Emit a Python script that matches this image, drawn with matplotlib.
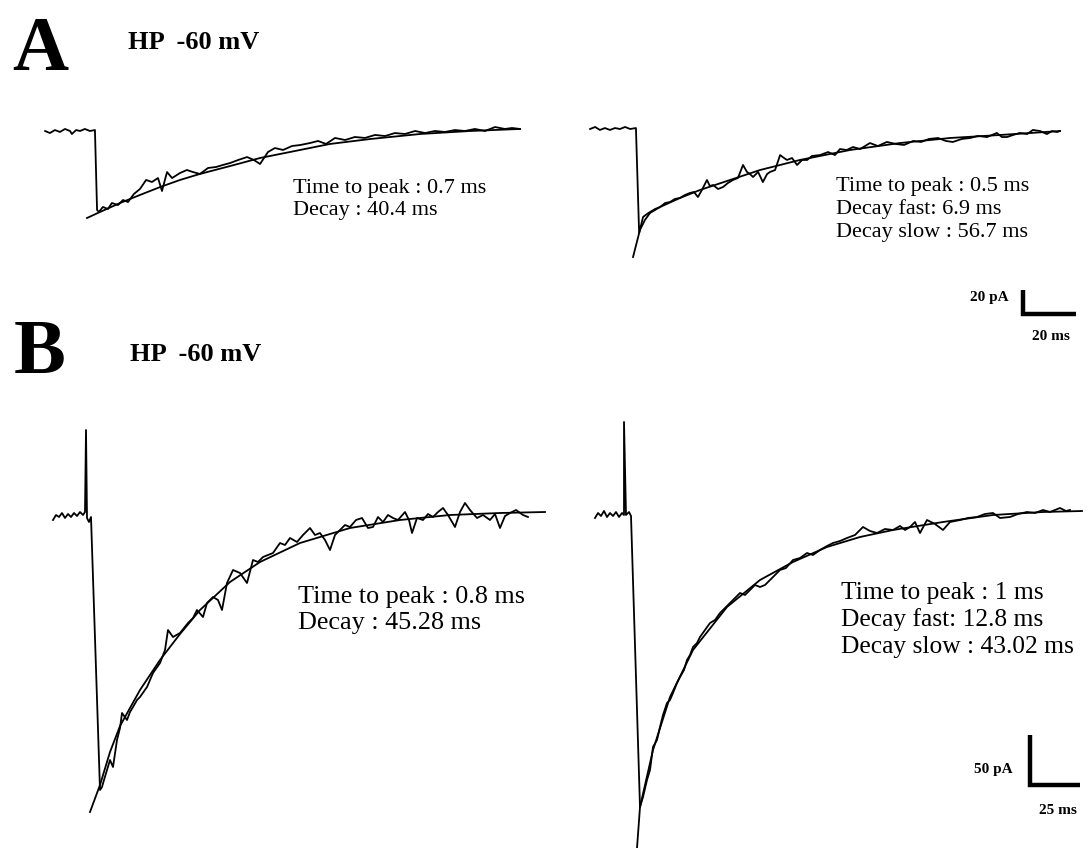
import matplotlib
matplotlib.use("Agg")
import matplotlib.pyplot as plt

W, H = 1086, 848
plt.rcParams['font.family'] = ['Liberation Serif', 'DejaVu Serif']

# Panel A, left trace (ms, pA)
a1_t = [-19.2, -17.4, -15.5, -13.6, -11.7, -9.8, -9.1, -7.5, -6.0, -4.2, -2.3, -0.4,
        0.4, 1.1, 2.6, 4.5, 6.0, 8.3, 10.2, 12.1, 14.3, 16.6, 18.9, 21.1, 23.4, 24.9,
        26.8, 28.7, 31.7, 34.3, 36.6, 39.2, 42.3, 45.3, 47.9, 50.6, 53.6, 57.0, 59.6,
        61.9, 64.9, 67.5, 70.6, 74.0, 77.0, 80.8, 83.8, 86.8, 90.2, 94.0, 97.7, 101.5,
        105.3, 109.1, 112.8, 116.6, 120.4, 124.2, 127.9, 131.7, 135.5, 139.2, 143.0,
        146.8, 150.6, 154.3, 157.0, 160.0]
a1_i = [0, -1.7, 0.8, -0.8, 1.7, 0, -2.5, 0.8, 0, 1.7, 0, 0.8,
        -65.8, -67.5, -63.3, -65.0, -60.0, -61.7, -57.5, -59.2, -52.5, -48.3,
        -40.8, -42.5, -39.2, -50.0, -34.2, -39.2, -35.0, -32.5, -34.2, -35.8,
        -30.8, -30.0, -28.3, -26.7, -24.2, -21.7, -24.2, -27.5, -17.5, -14.2,
        -15.8, -12.5, -11.7, -10.0, -8.3, -10.8, -5.8, -7.5, -5.0, -5.8,
        -3.3, -4.2, -1.7, -2.5, 0, -1.7, 0, -0.8, 0.8, 0,
        1.7, 0, 3.3, 1.7, 2.5, 1.7]
a1_fit_t = [-3.4, 1.5, 9.1, 16.6, 24.2, 31.7, 39.2, 50.6, 61.9, 73.2, 88.3, 103.4, 122.3, 141.1, 160.0]
a1_fit_i = [-72.5, -67.5, -60.0, -53.3, -46.7, -40.8, -35.8, -29.2, -22.5, -17.5, -10.8, -6.7, -2.5, 0, 1.7]

# Panel A, right trace
a2_t = [-17.7, -15.8, -14.0, -12.1, -10.2, -8.3, -6.4, -4.5, -2.6, -0.4,
        0.8, 2.3, 3.8, 4.9, 6.8, 8.7, 10.6, 12.5, 14.3, 16.2,
        18.1, 20.0, 21.5, 23.0, 24.5, 26.4, 27.5, 28.7, 30.6, 32.5,
        34.3, 36.2, 38.1, 40.0, 41.5, 42.6, 43.8, 45.7, 47.5, 49.1,
        50.2, 52.1, 54.0, 55.5, 56.6, 58.5, 60.4, 62.3, 64.2, 66.0,
        69.1, 72.1, 74.7, 76.6, 79.2, 81.5, 84.2, 87.9, 90.9, 94.3,
        97.7, 100.8, 104.2, 107.2, 110.2, 113.6, 116.6, 119.2, 122.6, 125.7,
        128.7, 132.1, 135.8, 137.7, 139.6, 141.9, 144.5, 147.2, 149.4, 152.1,
        154.7, 156.6, 158.5, 159.6]
a2_i = [0, 1.7, -0.8, 0.8, -0.8, 0.8, 0, 1.7, 0, 0.8,
        -86.7, -73.3, -70.8, -69.2, -66.7, -65.0, -61.7, -60.8, -58.3, -57.5,
        -55.0, -53.3, -52.5, -56.7, -50.8, -42.5, -47.5, -46.7, -50.0, -48.3,
        -45.0, -42.5, -40.8, -30.0, -35.8, -37.5, -40.0, -35.8, -44.2, -37.5,
        -35.8, -34.2, -21.7, -24.2, -25.8, -24.2, -30.0, -25.8, -25.8, -22.5,
        -21.7, -19.2, -21.7, -16.7, -17.5, -15.0, -16.7, -11.7, -14.2, -10.8,
        -12.5, -13.3, -10.0, -10.8, -8.3, -7.5, -10.0, -10.8, -8.3, -7.5,
        -5.8, -6.7, -3.3, -6.7, -6.7, -5.0, -3.3, -4.2, -0.8, -1.7,
        -4.2, -1.7, -2.5, -1.7]
a2_fit_t = [-1.5, 1.1, 3.0, 4.9, 8.7, 16.2, 23.8, 35.1, 46.4, 61.5, 80.4, 99.2, 118.1, 137.0, 159.6]
a2_fit_i = [-106.7, -84.2, -75.8, -70.0, -65.0, -57.5, -50.8, -42.5, -34.2, -25.8, -17.5, -11.7, -7.5, -5.0, -1.7]

# Panel B, left trace
b1_t = [-19.5, -18, -16.5, -15, -13.5, -12, -10.5, -9, -7.5, -6, -4.5, -3.5, -3, -2.5,
        -1.5, -0.5, 4, 5, 6, 7.5, 9, 10.5, 12.5, 14, 15, 17.5, 19, 20.5, 22.5, 24,
        27.5, 30.5, 34, 36.5, 38, 40.5, 44, 46, 48, 50.5, 52.5, 55.5, 57.5, 60.5, 63,
        65, 67.5, 70.5, 74, 77.5, 80.5, 83, 85.5, 88, 90.5, 94, 96.5, 99, 102.5, 105.5,
        109, 111.5, 114, 116.5, 119, 121.5, 124, 126.5, 129, 132, 135, 138, 140.5, 143,
        145.5, 148, 150.5, 153, 156.5, 158.5, 160, 162.5, 165.5, 168, 170.5, 173, 175.5,
        178, 181.5, 184, 186.5, 189, 192.5, 195.5, 199, 201.5, 204, 206.5, 209, 212,
        215.5, 218]
b1_i = [-2, 3, 1, 5, 0, 4, 1, 5, 2, 6, 3, 6, 88, 0, -4, 1, -272, -269, -262, -252,
        -242, -249, -222, -210, -195, -202, -194, -189, -182, -179, -169, -155, -145,
        -132, -112, -119, -115, -110, -105, -100, -92, -99, -85, -79, -82, -92, -65,
        -52, -55, -65, -42, -44, -39, -37, -35, -25, -27, -20, -24, -17, -10, -17, -15,
        -22, -32, -17, -12, -7, -9, -2, 0, -10, -9, 1, -4, 3, 0, -2, 6, -2, -15, 0, -2,
        4, 1, 6, 10, 3, -9, 6, 15, 8, 0, 3, -2, 4, -10, 2, 5, 8, 3, 1]
b1_fit_t = [-1, 4, 9, 14, 24, 34, 44, 54, 69, 84, 104, 129, 154, 179, 204, 226.5]
b1_fit_i = [-294, -267, -234, -208, -172, -142, -116, -92, -64, -44, -25, -10, -2, 3, 5, 6]

# Panel B, right trace
b2_t = [-18.5, -17, -15.5, -14, -12.5, -11, -9.5, -8, -6.5, -5, -4, -4, -3, -1.5, -0.5,
        4, 5.5, 7.5, 9, 10.5, 12.5, 14, 15.5, 17.5, 19, 20.5, 22.5, 24, 26, 27.5, 29,
        30.5, 32.5, 34, 36.5, 39, 41.5, 44, 46.5, 49, 51.5, 54, 56.5, 59, 61.5, 64,
        66.5, 69, 71.5, 74, 77, 80.5, 84, 87.5, 90.5, 94, 97.5, 100.5, 104, 107.5,
        111.5, 115.5, 119, 122.5, 126.5, 130.5, 134, 136.5, 139, 141.5, 144, 147.5,
        151.5, 155.5, 159, 164, 168, 172.5, 176.5, 180.5, 184, 189, 193, 197.5, 201.5,
        205.5, 209, 214, 217, 219]
b2_i = [-3, 2, -1, 4, -2, 2, -1, 3, -2, 2, 0, 93, 0, 3, -1,
        -292, -282, -265, -255, -232, -225, -212, -200, -188, -185, -178, -168, -162,
        -155, -145, -140, -132, -128, -122, -115, -108, -105, -98, -93, -88, -83, -78,
        -80, -75, -70, -72, -70, -65, -60, -55, -53, -45, -43, -38, -40, -35, -31, -28,
        -26, -23, -20, -12, -16, -18, -14, -15, -11, -15, -12, -7, -18, -5, -9, -15,
        -7, -5, -3, -2, 1, 2, -3, -2, 1, 3, 2, 5, 3, 7, 4, 5]
b2_fit_t = [2.5, 4, 10.5, 19, 30.5, 47.5, 64, 80.5, 97.5, 114, 130.5, 155.5, 180.5, 205.5, 225]
b2_fit_i = [-333, -292, -235, -182, -135, -92, -65, -47, -32, -22, -15, -7, 0, 3, 4]

a1_labels = ["Time to peak : 0.7 ms", "Decay : 40.4 ms"]
a2_labels = ["Time to peak : 0.5 ms", "Decay fast: 6.9 ms", "Decay slow : 56.7 ms"]
b1_labels = ["Time to peak : 0.8 ms", "Decay : 45.28 ms"]
b2_labels = ["Time to peak : 1 ms", "Decay fast: 12.8 ms", "Decay slow : 43.02 ms"]

fig = plt.figure(figsize=(W / 100, H / 100), dpi=100)


def trace_axes(x0, y0, px_ms, px_pa):
    # full-figure axes, origin (0 ms, 0 pA) at pixel (x0, y0)
    ax = fig.add_axes([0, 0, 1, 1])
    ax.set_xlim(-x0 / px_ms, (W - x0) / px_ms)
    ax.set_ylim(-(H - y0) / px_pa, y0 / px_pa)
    ax.axis('off')
    ax.patch.set_alpha(0)
    return ax


def ftext(x, y, s, **kw):
    fig.text(x / W, 1 - y / H, s, **kw)


def scale_bar(ax, x, y, ms, pa, px_ms, px_pa, x0, y0):
    t = (x - x0) / px_ms
    i = -(y - y0) / px_pa
    ax.plot([t, t, t + ms], [i + pa, i, i], color='black', lw=3.2,
            solid_joinstyle='miter', solid_capstyle='butt')


lw = 1.3
# A  (20 pA = 24 px, 20 ms = 53 px)
ax = trace_axes(96, 131, 2.65, 1.2)
ax.plot(a1_t, a1_i, color='black', lw=lw)
ax.plot(a1_fit_t, a1_fit_i, color='black', lw=lw)

ax = trace_axes(637, 129, 2.65, 1.2)
ax.plot(a2_t, a2_i, color='black', lw=lw)
ax.plot(a2_fit_t, a2_fit_i, color='black', lw=lw)
scale_bar(ax, 1023, 314, 20, 20, 2.65, 1.2, 637, 129)

# B  (50 pA = 50 px, 25 ms = 50 px)
ax = trace_axes(92, 518, 2.0, 1.0)
ax.plot(b1_t, b1_i, color='black', lw=lw)
ax.plot(b1_fit_t, b1_fit_i, color='black', lw=lw)

ax = trace_axes(632, 515, 2.0, 1.0)
ax.plot(b2_t, b2_i, color='black', lw=lw)
ax.plot(b2_fit_t, b2_fit_i, color='black', lw=lw)
scale_bar(ax, 1030, 785, 25, 50, 2.0, 1.0, 632, 515)

# labels
ftext(40, 70, "A", fontsize=56, fontweight='bold', ha='center', va='baseline')
ftext(40, 373, "B", fontsize=56, fontweight='bold', ha='center', va='baseline')
ftext(128, 49, "HP  -60 mV", fontsize=19, fontweight='bold', va='baseline')
ftext(130, 361, "HP  -60 mV", fontsize=19, fontweight='bold', va='baseline')

for k, s in enumerate(a1_labels):
    ftext(293, 188 + 23 * k, s, fontsize=16, va='center')
for k, s in enumerate(a2_labels):
    ftext(836, 186 + 23.5 * k, s, fontsize=16, va='center')
for k, s in enumerate(b1_labels):
    ftext(298, 597 + 26 * k, s, fontsize=18.8, va='center')
for k, s in enumerate(b2_labels):
    ftext(841, 593 + 27 * k, s, fontsize=18.4, va='center')

ftext(1009, 298, "20 pA", fontsize=11, fontweight='bold', ha='right', va='center')
ftext(1051, 336, "20 ms", fontsize=11, fontweight='bold', ha='center', va='center')
ftext(1013, 770, "50 pA", fontsize=11, fontweight='bold', ha='right', va='center')
ftext(1058, 810, "25 ms", fontsize=11, fontweight='bold', ha='center', va='center')

fig.savefig("out.png", dpi=100)
